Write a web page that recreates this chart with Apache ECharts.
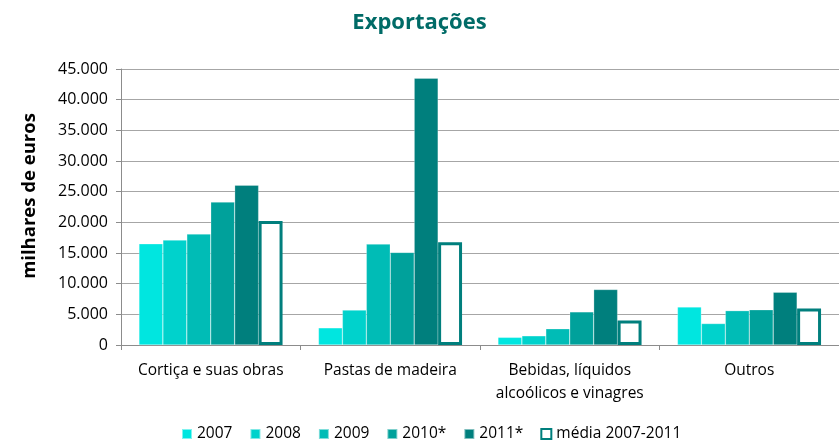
<!DOCTYPE html>
<html><head><meta charset="utf-8">
<script src="https://cdn.jsdelivr.net/npm/echarts@6/dist/echarts.min.js"></script>
<style>html,body{margin:0;padding:0;background:#fff}#c{width:839px;height:443px}</style>
</head><body><div id="c"></div>
<script>
const categories = ['Cortiça e suas obras', 'Pastas de madeira', 'Bebidas, líquidos\nalcoólicos e vinagres', 'Outros'];
const seriesNames = ['2007', '2008', '2009', '2010*', '2011*', 'média 2007-2011'];
const v2007 = [16500, 2800, 1250, 6200];
const v2008 = [17100, 5700, 1500, 3500];
const v2009 = [18100, 16450, 2650, 5600];
const v2010 = [23300, 15100, 5400, 5750];
const v2011 = [26050, 43500, 9050, 8600];
const vMedia = [20200, 16750, 4000, 5950];
const yTicks = [0, 5000, 10000, 15000, 20000, 25000, 30000, 35000, 40000, 45000];

const colors = ['#00E6E0', '#00D2CC', '#00BCB6', '#00A19B', '#007F7D'];
const values = [v2007, v2008, v2009, v2010, v2011];
const FONT = '"Open Sans", "Liberation Sans", sans-serif';

const series = values.map((d, i) => ({
  name: seriesNames[i], type: 'bar', data: d, barGap: '0%', barCategoryGap: '20%',
  itemStyle: { color: colors[i], borderColor: 'rgba(255,255,255,0.5)', borderWidth: 0.5 }
}));
series.push({
  name: seriesNames[5], type: 'bar', data: vMedia, barGap: '0%', barCategoryGap: '20%',
  itemStyle: { color: '#ffffff', borderColor: '#007F7D', borderWidth: 3 }
});

const chart = echarts.init(document.getElementById('c'), null, { renderer: 'canvas' });
chart.setOption({
  animation: false,
  title: { text: 'Exportações', left: 'center', top: 7,
    textStyle: { fontFamily: FONT, fontSize: 22, fontWeight: 'bold', color: '#006B67' } },
  grid: { left: 121, right: -7, top: 69, bottom: 98, containLabel: false },
  legend: {
    bottom: -4, left: 176, itemWidth: 10, itemHeight: 10, itemGap: 17,
    textStyle: { fontFamily: FONT, fontSize: 15.5, color: '#000' },
    data: seriesNames.map((n, i) => i < 5 ? { name: n, icon: 'rect' } :
      { name: n, icon: 'rect', itemStyle: { color: '#fff', borderColor: '#007F7D', borderWidth: 2 } })
  },
  xAxis: {
    type: 'category', data: categories,
    axisLine: { lineStyle: { color: '#8C8C8C', width: 1 } },
    axisTick: { show: true, length: 5, lineStyle: { color: '#8C8C8C' } },
    axisLabel: { fontFamily: FONT, fontSize: 15.5, color: '#000', margin: 14, lineHeight: 23, interval: 0 }
  },
  yAxis: {
    type: 'value', min: 0, max: 45000, interval: 5000,
    name: 'milhares de euros', nameLocation: 'middle', nameGap: 82,
    nameTextStyle: { fontFamily: FONT, fontSize: 18.5, fontWeight: 'bold', color: '#000', padding: [0, 0, 0, 22] },
    axisLine: { show: true, lineStyle: { color: '#8C8C8C' } },
    axisTick: { show: true, length: 5, lineStyle: { color: '#8C8C8C' } },
    splitLine: { lineStyle: { color: '#A6A6A6', width: 1 } },
    axisLabel: { fontFamily: FONT, fontSize: 16, color: '#000', margin: 13,
      formatter: v => yTicks.includes(v) ? v.toLocaleString('de-DE') : '' }
  },
  series
});
</script></body></html>
